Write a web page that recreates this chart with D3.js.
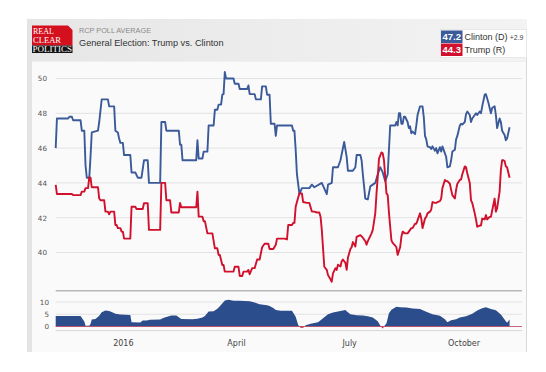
<!DOCTYPE html>
<html><head><meta charset="utf-8">
<script src="https://cdn.jsdelivr.net/npm/d3@7"></script>
<style>body{margin:0;background:#fff;}svg{display:block;}</style>
</head><body>
<svg id="c" width="546" height="372"></svg>
<script>
// ---------- DATA ----------
const clintonData = [
["2015-11-08",46.0],["2015-11-09",47.7],["2015-11-18",47.7],["2015-11-19",47.8],["2015-11-21",47.8],["2015-11-22",47.6],
["2015-11-28",47.6],["2015-11-29",47.0],["2015-12-01",47.0],["2015-12-02",45.0],["2015-12-03",44.3],["2015-12-05",44.3],
["2015-12-06",45.5],["2015-12-07",46.9],["2015-12-12",47.0],["2015-12-13",47.5],["2015-12-15",48.8],["2015-12-20",48.8],
["2015-12-21",48.4],["2015-12-25",48.4],["2015-12-26",47.0],["2015-12-28",46.9],["2015-12-29",46.55],["2015-12-30",46.3],
["2016-01-01",46.3],["2016-01-02",45.6],["2016-01-07",45.6],["2016-01-08",44.6],["2016-01-11",44.6],["2016-01-13",44.3],
["2016-01-16",44.3],["2016-01-18",45.3],["2016-01-21",45.3],["2016-01-22",44.0],["2016-01-31",44.0],["2016-02-01",47.5],
["2016-02-04",47.5],["2016-02-05",47.0],["2016-02-15",47.0],["2016-02-16",46.2],["2016-02-17",46.2],["2016-02-18",45.3],
["2016-02-29",45.3],["2016-03-01",46.45],["2016-03-02",45.4],["2016-03-05",45.4],["2016-03-06",45.8],["2016-03-09",45.8],
["2016-03-10",47.3],["2016-03-14",47.3],["2016-03-15",48.2],["2016-03-17",48.2],["2016-03-18",48.5],["2016-03-20",48.5],
["2016-03-21",49.07],["2016-03-22",49.1],["2016-03-23",50.37],["2016-03-24",50.0],["2016-03-30",50.0],["2016-03-31",49.7],
["2016-04-03",49.7],["2016-04-04",49.4],["2016-04-10",49.4],["2016-04-11",49.6],["2016-04-12",49.1],["2016-04-16",49.1],
["2016-04-17",48.8],["2016-04-21",48.8],["2016-04-22",49.55],["2016-04-25",49.55],["2016-04-26",49.07],["2016-04-28",49.07],
["2016-04-29",47.4],["2016-05-02",47.4],["2016-05-03",46.7],["2016-05-04",47.3],["2016-05-16",47.3],["2016-05-17",47.0],
["2016-05-18",47.0],["2016-05-19",45.9],["2016-05-20",44.5],["2016-05-22",43.35],["2016-05-24",43.7],["2016-05-30",43.7],
["2016-06-01",43.9],["2016-06-03",43.75],["2016-06-09",44.0],["2016-06-13",43.35],["2016-06-14",43.9],["2016-06-17",44.0],
["2016-06-18",44.9],["2016-06-22",44.9],["2016-06-24",45.3],["2016-06-27",46.35],["2016-06-29",45.5],["2016-06-30",44.7],
["2016-07-04",44.7],["2016-07-06",44.9],["2016-07-07",45.6],["2016-07-10",45.6],["2016-07-11",45.3],["2016-07-12",44.5],
["2016-07-14",43.1],["2016-07-16",43.05],["2016-07-18",43.8],["2016-07-22",44.0],["2016-07-24",44.5],["2016-07-26",44.9],
["2016-07-28",44.6],["2016-07-30",44.1],["2016-08-01",44.5],["2016-08-03",47.3],["2016-08-07",47.3],["2016-08-08",47.5],
["2016-08-09",47.3],["2016-08-10",48.0],["2016-08-11",48.0],["2016-08-12",47.4],["2016-08-13",47.4],["2016-08-14",47.8],
["2016-08-15",47.8],["2016-08-17",47.5],["2016-08-18",47.15],["2016-08-19",47.25],["2016-08-20",46.85],["2016-08-21",46.95],
["2016-08-23",46.8],["2016-08-24",47.3],["2016-08-25",47.9],["2016-08-27",48.4],["2016-08-29",48.4],["2016-08-30",47.8],
["2016-08-31",46.7],["2016-09-01",46.5],["2016-09-02",46.1],["2016-09-04",46.05],["2016-09-05",45.95],["2016-09-06",46.1],
["2016-09-08",45.85],["2016-09-09",46.0],["2016-09-10",45.7],["2016-09-12",46.05],["2016-09-13",45.8],["2016-09-14",46.1],
["2016-09-16",45.7],["2016-09-17",45.5],["2016-09-18",44.9],["2016-09-20",44.95],["2016-09-21",45.3],["2016-09-22",45.8],
["2016-09-24",45.9],["2016-09-25",46.5],["2016-09-26",46.7],["2016-09-28",47.3],["2016-09-29",47.4],["2016-09-30",47.35],
["2016-10-02",47.5],["2016-10-03",47.95],["2016-10-04",48.1],["2016-10-06",47.9],["2016-10-07",47.5],["2016-10-08",47.7],
["2016-10-10",47.9],["2016-10-11",48.0],["2016-10-12",47.9],["2016-10-14",48.1],["2016-10-15",48.0],["2016-10-16",48.4],
["2016-10-18",49.07],["2016-10-19",49.1],["2016-10-20",48.85],["2016-10-21",48.6],["2016-10-22",48.3],["2016-10-23",48.0],
["2016-10-24",48.3],["2016-10-26",48.4],["2016-10-27",47.9],["2016-10-28",47.15],["2016-10-30",47.7],["2016-10-31",47.5],
["2016-11-01",47.0],["2016-11-03",46.75],["2016-11-04",46.45],["2016-11-05",46.55],["2016-11-07",47.2]
];
const trumpData = [
["2015-11-08",43.88],["2015-11-09",43.36],["2015-11-21",43.36],["2015-11-22",43.3],["2015-11-28",43.3],["2015-11-29",43.5],
["2015-12-01",43.5],["2015-12-02",43.7],["2015-12-04",43.7],["2015-12-05",44.32],["2015-12-06",44.3],["2015-12-07",43.75],
["2015-12-12",43.75],["2015-12-13",43.1],["2015-12-14",43.0],["2015-12-17",43.0],["2015-12-18",42.35],["2015-12-20",42.35],
["2015-12-21",42.2],["2015-12-22",42.35],["2015-12-25",42.35],["2015-12-26",41.58],["2015-12-27",41.58],["2015-12-28",41.4],
["2015-12-30",41.4],["2015-12-31",41.2],["2016-01-01",41.2],["2016-01-02",40.8],["2016-01-07",40.8],["2016-01-08",42.63],
["2016-01-11",42.63],["2016-01-12",42.5],["2016-01-17",42.5],["2016-01-18",42.83],["2016-01-21",42.83],["2016-01-22",41.3],
["2016-01-31",41.3],["2016-02-01",44.0],["2016-02-04",44.0],["2016-02-05",43.0],["2016-02-08",43.0],["2016-02-09",42.3],
["2016-02-15",42.3],["2016-02-16",42.85],["2016-02-17",42.6],["2016-02-29",42.6],["2016-03-01",43.5],["2016-03-02",42.06],
["2016-03-05",42.06],["2016-03-06",41.8],["2016-03-07",41.8],["2016-03-09",41.1],["2016-03-13",41.1],["2016-03-15",40.24],
["2016-03-17",40.24],["2016-03-18",39.86],["2016-03-19",39.86],["2016-03-21",39.28],["2016-03-22",39.28],["2016-03-23",38.9],
["2016-03-30",38.9],["2016-03-31",39.18],["2016-04-03",39.18],["2016-04-04",38.65],["2016-04-06",38.65],["2016-04-07",38.9],
["2016-04-10",38.9],["2016-04-11",39.0],["2016-04-12",38.75],["2016-04-14",39.1],["2016-04-16",39.1],["2016-04-18",39.6],
["2016-04-20",39.6],["2016-04-22",40.3],["2016-04-24",40.5],["2016-04-27",40.5],["2016-04-28",40.2],["2016-05-01",40.2],
["2016-05-03",40.45],["2016-05-04",40.8],["2016-05-10",40.8],["2016-05-12",40.75],["2016-05-13",41.58],["2016-05-16",41.58],
["2016-05-17",41.7],["2016-05-18",41.7],["2016-05-19",42.63],["2016-05-20",42.9],["2016-05-22",43.4],["2016-05-24",43.4],
["2016-05-25",42.9],["2016-05-28",42.85],["2016-05-30",42.85],["2016-06-01",42.35],["2016-06-03",42.35],["2016-06-05",42.3],
["2016-06-07",42.3],["2016-06-08",42.06],["2016-06-09",41.3],["2016-06-10",40.24],["2016-06-11",39.18],["2016-06-13",39.0],
["2016-06-14",38.7],["2016-06-16",38.46],["2016-06-17",38.32],["2016-06-18",38.8],["2016-06-20",39.1],["2016-06-21",39.0],
["2016-06-22",39.3],["2016-06-24",39.2],["2016-06-25",39.5],["2016-06-26",39.6],["2016-06-28",39.4],["2016-06-29",39.0],
["2016-06-30",39.7],["2016-07-02",40.2],["2016-07-03",40.3],["2016-07-04",40.6],["2016-07-06",40.35],["2016-07-07",40.9],
["2016-07-10",41.0],["2016-07-12",40.85],["2016-07-14",40.65],["2016-07-15",40.45],["2016-07-16",40.65],["2016-07-19",41.1],
["2016-07-20",41.3],["2016-07-22",42.25],["2016-07-23",43.4],["2016-07-24",44.36],["2016-07-25",45.4],["2016-07-27",45.75],
["2016-07-28",45.7],["2016-07-29",45.3],["2016-07-30",44.36],["2016-07-31",43.4],["2016-08-01",43.3],["2016-08-02",42.3],
["2016-08-03",41.48],["2016-08-04",40.7],["2016-08-05",40.55],["2016-08-07",40.4],["2016-08-08",40.3],["2016-08-09",39.86],
["2016-08-11",40.3],["2016-08-12",40.9],["2016-08-13",41.2],["2016-08-15",41.1],["2016-08-17",41.1],["2016-08-19",41.3],
["2016-08-20",41.4],["2016-08-21",41.4],["2016-08-23",41.65],["2016-08-24",41.65],["2016-08-25",41.85],["2016-08-27",42.25],
["2016-08-28",41.95],["2016-08-29",41.4],["2016-08-31",41.95],["2016-09-01",42.05],["2016-09-02",42.25],["2016-09-04",42.35],
["2016-09-05",42.46],["2016-09-06",42.9],["2016-09-08",42.85],["2016-09-09",42.85],["2016-09-10",42.9],["2016-09-12",42.95],
["2016-09-13",43.1],["2016-09-14",43.7],["2016-09-16",44.17],["2016-09-17",44.1],["2016-09-18",44.1],["2016-09-20",43.95],
["2016-09-21",43.6],["2016-09-22",43.3],["2016-09-24",43.1],["2016-09-25",43.6],["2016-09-26",43.95],["2016-09-28",44.17],
["2016-09-29",44.2],["2016-09-30",44.5],["2016-10-02",44.95],["2016-10-03",44.9],["2016-10-04",44.55],["2016-10-06",44.0],
["2016-10-07",43.0],["2016-10-08",42.85],["2016-10-10",42.25],["2016-10-11",41.9],["2016-10-12",41.48],["2016-10-14",41.55],
["2016-10-15",41.55],["2016-10-16",41.95],["2016-10-18",41.9],["2016-10-19",42.15],["2016-10-20",41.9],["2016-10-22",42.05],
["2016-10-23",42.05],["2016-10-24",42.4],["2016-10-26",43.1],["2016-10-27",42.35],["2016-10-28",42.55],["2016-10-30",43.5],
["2016-10-31",44.74],["2016-11-01",45.3],["2016-11-02",45.3],["2016-11-03",45.25],["2016-11-04",44.95],["2016-11-05",44.9],
["2016-11-07",44.3]
];
const spreadData = [
["2015-11-08",4.3],["2015-11-28",4.3],["2015-12-01",2.0],["2015-12-02",0.3],["2015-12-05",0.3],["2015-12-06",1.0],
["2015-12-07",2.9],["2015-12-10",3.1],["2015-12-13",4.4],["2015-12-15",5.8],["2015-12-18",6.5],["2015-12-21",6.3],
["2015-12-23",5.9],["2015-12-26",5.2],["2015-12-30",4.9],["2016-01-07",4.7],["2016-01-08",1.7],["2016-01-15",1.6],
["2016-01-17",2.5],["2016-01-20",2.5],["2016-01-23",2.8],["2016-01-31",2.9],["2016-02-03",3.6],["2016-02-09",4.5],
["2016-02-13",4.5],["2016-02-17",3.1],["2016-02-26",3.0],["2016-03-01",3.2],["2016-03-05",3.7],["2016-03-07",4.3],
["2016-03-10",6.1],["2016-03-14",6.2],["2016-03-17",7.2],["2016-03-19",8.3],["2016-03-23",10.6],["2016-03-26",10.9],
["2016-03-30",10.5],["2016-04-04",10.5],["2016-04-12",10.3],["2016-04-16",9.8],["2016-04-20",9.1],["2016-04-26",8.7],
["2016-04-28",8.4],["2016-05-01",7.6],["2016-05-03",6.7],["2016-05-07",6.4],["2016-05-16",6.4],["2016-05-19",4.0],
["2016-05-21",0.6],["2016-05-23",-0.5],["2016-05-25",-0.5],["2016-05-27",0.5],["2016-05-31",1.1],["2016-06-06",1.7],
["2016-06-10",3.4],["2016-06-14",5.0],["2016-06-18",5.7],["2016-06-24",6.3],["2016-06-28",6.7],["2016-06-29",6.2],
["2016-07-02",5.0],["2016-07-07",4.6],["2016-07-12",4.5],["2016-07-16",4.2],["2016-07-20",3.7],["2016-07-24",2.1],
["2016-07-26",0.4],["2016-07-28",-0.8],["2016-07-29",0.0],["2016-07-31",1.3],["2016-08-02",5.4],["2016-08-04",6.8],
["2016-08-08",8.1],["2016-08-11",7.9],["2016-08-16",7.8],["2016-08-21",7.4],["2016-08-27",7.1],["2016-09-01",6.0],
["2016-09-06",5.0],["2016-09-12",4.4],["2016-09-16",3.0],["2016-09-18",1.7],["2016-09-21",2.6],["2016-09-25",3.0],
["2016-09-28",3.7],["2016-10-03",4.2],["2016-10-08",5.2],["2016-10-12",6.5],["2016-10-16",7.5],["2016-10-19",7.9],
["2016-10-23",7.1],["2016-10-27",6.6],["2016-10-31",4.9],["2016-11-04",2.2],["2016-11-05",1.5],["2016-11-07",2.9]
];
const yTicks = [40, 42, 44, 46, 48, 50];
const spreadTicks = [0, 5, 10];
const monthTicks = ["2016-01-01", "2016-04-01", "2016-07-01", "2016-10-01"];
const monthLabels = ["2016", "April", "July", "October"];
const legendNames = ["Clinton (D)", "Trump (R)"];
const legendValues = [47.2, 44.3];
const spreadText = "+2.9";
const titleSmall = "RCP POLL AVERAGE";
const titleMain = "General Election: Trump vs. Clinton";
const logoWords = ["REAL", "CLEAR", "POLITICS"];

// ---------- DRAW ----------
const parse = d3.timeParse("%Y-%m-%d");
const BLUE = "#3b5a99", RED = "#d0102c", AREA = "#2c4d8c";
const svg = d3.select("#c");
const defs = svg.append("defs");

// frame & header
const hg = defs.append("linearGradient").attr("id", "hg");
hg.append("stop").attr("offset", "0%").attr("stop-color", "#e6e6e6");
hg.append("stop").attr("offset", "100%").attr("stop-color", "#f3f3f3");
svg.append("rect").attr("x", 27).attr("y", 19).attr("width", 500).attr("height", 333).attr("fill", "#e4e4e4");
svg.append("rect").attr("x", 32).attr("y", 19).attr("width", 495).attr("height", 42).attr("fill", "url(#hg)");
svg.append("rect").attr("x", 32).attr("y", 61.5).attr("width", 494).attr("height", 290.5).attr("fill", "#fafafa");
svg.append("line").attr("x1", 526.5).attr("x2", 526.5).attr("y1", 58).attr("y2", 352).attr("stroke", "#d8d8d8");

// logo
svg.append("path").attr("d", "M32,25.5H68L72.5,30V45.5H32Z").attr("fill", "#d40f1e");
svg.append("rect").attr("x", 32).attr("y", 45.5).attr("width", 40.5).attr("height", 7.5).attr("fill", "#111");
const lf = "'Liberation Serif','DejaVu Serif',serif";
svg.append("text").attr("x", 33).attr("y", 34.2).text(logoWords[0]).attr("font-family", lf).attr("font-size", 7.3)
  .attr("fill", "#fff").attr("textLength", 21).attr("lengthAdjust", "spacingAndGlyphs");
svg.append("text").attr("x", 33).attr("y", 42.6).text(logoWords[1]).attr("font-family", lf).attr("font-size", 7.3)
  .attr("fill", "#fff").attr("textLength", 28).attr("lengthAdjust", "spacingAndGlyphs");
svg.append("text").attr("x", 32.5).attr("y", 52).text(logoWords[2]).attr("font-family", lf).attr("font-size", 7.6)
  .attr("fill", "#fff").attr("textLength", 39.5).attr("lengthAdjust", "spacingAndGlyphs");

// titles
const sf = "'Liberation Sans',Arial,sans-serif";
svg.append("text").attr("x", 79).attr("y", 32.5).text(titleSmall).attr("font-family", sf).attr("font-size", 7.5)
  .attr("fill", "#8a8a8a").attr("textLength", 72).attr("lengthAdjust", "spacingAndGlyphs");
svg.append("text").attr("x", 79).attr("y", 46).text(titleMain).attr("font-family", sf).attr("font-size", 9.2).attr("fill", "#333");

// legend
const lg = svg.append("g");
lg.append("rect").attr("x", 440.5).attr("y", 29.5).attr("width", 86).attr("height", 28).attr("fill", "#fff").attr("stroke", "#ddd").attr("stroke-width", 0.6);
[BLUE, RED].forEach((c, i) => {
  const yy = 30.5 + i * 13;
  lg.append("rect").attr("x", 441).attr("y", yy).attr("width", 21.5).attr("height", 12.5).attr("fill", c);
  lg.append("text").attr("x", 451.8).attr("y", yy + 9.8).attr("text-anchor", "middle").text(legendValues[i].toFixed(1))
    .attr("font-family", sf).attr("font-size", 9.5).attr("font-weight", "bold").attr("fill", "#fff");
  lg.append("text").attr("x", 464.5).attr("y", yy + 9.5).text(legendNames[i]).attr("font-family", sf).attr("font-size", 9).attr("fill", "#333");
});
lg.append("text").attr("x", 523.5).attr("y", 40).attr("text-anchor", "end").text(spreadText).attr("font-family", sf).attr("font-size", 7).attr("fill", "#444");

// scales
const x = d3.scaleTime().domain([parse("2015-11-08"), parse("2016-11-17")]).range([55.7, 522]);
const y = d3.scaleLinear().domain([38, 51]).range([287.3, 61.1]);
const ys = d3.scaleLinear().domain([-1.5, 12]).range([330.2, 297.1]);

// main gridlines
svg.append("g").selectAll("line").data(yTicks).join("line")
  .attr("x1", 55.7).attr("x2", 522).attr("y1", d => y(d)).attr("y2", d => y(d))
  .attr("stroke", "#e2e2e2").attr("stroke-width", 1);

const af = "'DejaVu Sans',Verdana,sans-serif";
const yAxis = svg.append("g").attr("transform", "translate(50,0)")
  .call(d3.axisLeft(y).tickValues(yTicks).tickSize(0).tickPadding(3));
yAxis.select(".domain").remove();
yAxis.selectAll("text").attr("font-family", af).attr("font-size", 7.2).attr("fill", "#555");

// lines
const line = d3.line().x(d => x(parse(d[0]))).y(d => y(d[1])).curve(d3.curveLinear);
svg.append("path").datum(clintonData).attr("d", line).attr("fill", "none").attr("stroke", BLUE)
  .attr("stroke-width", 1.9).attr("stroke-linejoin", "round");
svg.append("path").datum(trumpData).attr("d", line).attr("fill", "none").attr("stroke", RED)
  .attr("stroke-width", 1.9).attr("stroke-linejoin", "round");

// separator
svg.append("line").attr("x1", 55.7).attr("x2", 522).attr("y1", 290.8).attr("y2", 290.8).attr("stroke", "#b8b8b8").attr("stroke-width", 1.4);

// spread panel gridlines
svg.append("g").selectAll("line").data(spreadTicks.filter(d => d !== 0)).join("line")
  .attr("x1", 55.7).attr("x2", 522).attr("y1", d => ys(d)).attr("y2", d => ys(d))
  .attr("stroke", "#e2e2e2");
svg.append("line").attr("x1", 55.7).attr("x2", 522).attr("y1", 330.6).attr("y2", 330.6).attr("stroke", "#d5d5d5");

// spread area
const z = ys(0);
defs.append("clipPath").attr("id", "pos").append("rect").attr("x", 0).attr("y", 0).attr("width", 546).attr("height", z);
defs.append("clipPath").attr("id", "neg").append("rect").attr("x", 0).attr("y", z).attr("width", 546).attr("height", 60);
const area = d3.area().x(d => x(parse(d[0]))).y0(z).y1(d => ys(d[1]));
svg.append("path").datum(spreadData).attr("d", area).attr("fill", AREA).attr("clip-path", "url(#pos)");
svg.append("path").datum(spreadData).attr("d", area).attr("fill", RED).attr("clip-path", "url(#neg)");
svg.append("line").attr("x1", 55.7).attr("x2", 522).attr("y1", z).attr("y2", z).attr("stroke", "#b04060").attr("stroke-width", 0.8);

const sAxis = svg.append("g").attr("transform", "translate(52,0)")
  .call(d3.axisLeft(ys).tickValues(spreadTicks).tickSize(0).tickPadding(3));
sAxis.select(".domain").remove();
sAxis.selectAll("text").attr("font-family", af).attr("font-size", 7.2).attr("fill", "#555");

// x axis
const xAxis = svg.append("g").attr("transform", "translate(0,337)")
  .call(d3.axisBottom(x).tickValues(monthTicks.map(parse)).tickFormat((d, i) => monthLabels[i]).tickSize(0).tickPadding(3.3));
xAxis.select(".domain").remove();
xAxis.selectAll("text").attr("font-family", af).attr("font-size", 8).attr("fill", "#444");
</script>
</body></html>
